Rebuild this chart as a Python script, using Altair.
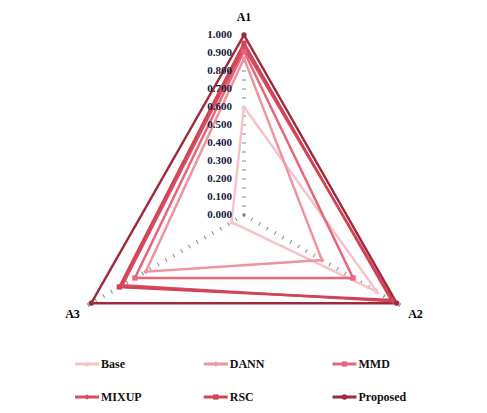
import altair as alt
import pandas as pd

categories = ["A1", "A2", "A3"]
series = ["Base", "DANN", "MMD", "MIXUP", "RSC", "Proposed"]
base_vals = [0.60, 0.855, 0.08]
dann_vals = [0.87, 0.50, 0.63]
mmd_vals = [0.91, 0.70, 0.70]
mixup_vals = [0.93, 0.96, 0.78]
rsc_vals = [0.955, 0.945, 0.80]
proposed_vals = [1.00, 0.98, 0.98]
tick_labels = ["0.000", "0.100", "0.200", "0.300", "0.400", "0.500",
               "0.600", "0.700", "0.800", "0.900", "1.000"]
tick_values = [0.0, 0.05, 0.1, 0.15, 0.2, 0.25, 0.3, 0.35, 0.4, 0.45, 0.5,
               0.55, 0.6, 0.65, 0.7, 0.75, 0.8, 0.85, 0.9, 0.95, 1.0]

values = {"Base": base_vals, "DANN": dann_vals, "MMD": mmd_vals,
          "MIXUP": mixup_vals, "RSC": rsc_vals, "Proposed": proposed_vals}

colors = ["#f5c3c9", "#ee949e", "#e8657a", "#dc4a60", "#cf4557", "#9e2a3b"]
widths = [2.5, 2.5, 3, 3, 4, 3]
shapes = ["triangle-up", "diamond", "square", "diamond", "square", "circle"]
msizes = [28, 28, 40, 28, 50, 60]

FONT = "Liberation Serif"

rows = []
for s in series:
    vals = values[s]
    for k in range(4):
        rows.append({"series": s, "k": k, "v": vals[k % 3]})
df = pd.DataFrame(rows)

tick_df = pd.DataFrame([{"k": k, "v": t} for k in range(3) for t in tick_values])
lab_df = pd.DataFrame({"k": 0, "v": [float(t) for t in tick_labels], "lab": tick_labels})
name_df = pd.DataFrame({"k": [0, 1, 2], "v": [1.1, 1.1, 1.1], "name": categories})

xs = alt.Scale(domain=[-1.31111, 1.30556], nice=False, zero=False)
ys = alt.Scale(domain=[-0.68333, 1.15], nice=False, zero=False)
cscale = alt.Scale(domain=series, range=colors)


def polar(ch):
    return ch.transform_calculate(
        theta="PI/2 - datum.k*2*PI/3",
        px="datum.v*cos(datum.theta)",
        py="datum.v*sin(datum.theta)",
    )


X = alt.X("px:Q", scale=xs, axis=None)
Y = alt.Y("py:Q", scale=ys, axis=None)

ticks = polar(alt.Chart(tick_df)).transform_calculate(ang="datum.k*120").mark_point(
    shape="stroke", size=16, stroke="#555555", strokeWidth=1, filled=False
).encode(x=X, y=Y, angle=alt.Angle("ang:Q", scale=None))

labels = polar(alt.Chart(lab_df)).mark_text(
    align="right", baseline="middle", dx=-12, font=FONT, fontWeight="bold",
    fontSize=11, color="#14213d"
).encode(x=X, y=Y, text="lab:N")

names = polar(alt.Chart(name_df)).mark_text(
    align="center", baseline="middle", font=FONT, fontWeight="bold",
    fontSize=12, color="#000000"
).encode(x=X, y=Y, text="name:N")

lines = polar(alt.Chart(df)).mark_line(strokeJoin="miter").encode(
    x=X, y=Y,
    color=alt.Color("series:N", scale=cscale, legend=None),
    strokeWidth=alt.StrokeWidth("series:N", scale=alt.Scale(domain=series, range=widths), legend=None),
    order="k:Q",
    detail="series:N",
)

points = polar(alt.Chart(df)).transform_filter("datum.k < 3").mark_point(
    filled=True, opacity=1
).encode(
    x=X, y=Y,
    color=alt.Color("series:N", scale=cscale, legend=None),
    shape=alt.Shape("series:N", scale=alt.Scale(domain=series, range=shapes), legend=None),
    size=alt.Size("series:N", scale=alt.Scale(domain=series, range=msizes), legend=None),
)

main = alt.layer(ticks, lines, points, labels, names).properties(width=471, height=330)

leg_df = pd.DataFrame({"series": series, "idx": list(range(len(series)))})
lxs = alt.Scale(domain=[-0.61359, 3.04466], nice=False, zero=False)
lys = alt.Scale(domain=[-0.78788, 1.24242], nice=False, zero=False, reverse=True)
leg_base = alt.Chart(leg_df).transform_calculate(
    col="datum.idx % 3", row="floor(datum.idx / 3)"
)
LX = alt.X("col:Q", scale=lxs, axis=None)
LY = alt.Y("row:Q", scale=lys, axis=None)
leg_rule = leg_base.mark_rule(xOffset=-12, x2Offset=12, strokeWidth=3).encode(
    x=LX, x2="col:Q", y=LY,
    color=alt.Color("series:N", scale=cscale, legend=None),
)
leg_pt = leg_base.mark_point(filled=True, opacity=1).encode(
    x=LX, y=LY,
    color=alt.Color("series:N", scale=cscale, legend=None),
    shape=alt.Shape("series:N", scale=alt.Scale(domain=series, range=shapes), legend=None),
    size=alt.Size("series:N", scale=alt.Scale(domain=series, range=[20, 20, 30, 20, 36, 40]), legend=None),
)
leg_txt = leg_base.mark_text(
    align="left", baseline="middle", dx=14, font=FONT, fontWeight="bold",
    fontSize=12, color="#111111"
).encode(x=LX, y=LY, text="series:N")
legend = alt.layer(leg_rule, leg_pt, leg_txt).properties(width=471, height=67)

chart = alt.vconcat(main, legend, spacing=0).properties(padding=0).configure_view(stroke=None)

chart.save("out.html", embed_options={"renderer": "svg", "actions": False})
